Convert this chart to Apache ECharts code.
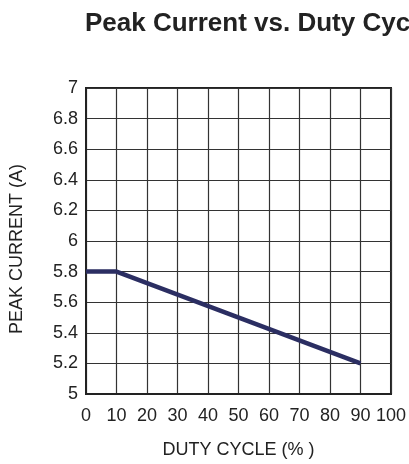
<!DOCTYPE html>
<html><head><meta charset="utf-8">
<script src="https://cdn.jsdelivr.net/npm/echarts@6/dist/echarts.min.js"></script>
<style>html,body{margin:0;padding:0;background:#fff}#c{width:409px;height:464px}</style>
</head><body><div id="c"></div>
<script>
const titleText = 'Peak Current vs. Duty Cycle';
const xName = 'DUTY CYCLE (% )';
const yName = 'PEAK CURRENT (A)';
const dutyCycle = [0, 10, 90];
const peakCurrent = [5.8, 5.8, 5.2];
const xTicks = {min: 0, max: 100, interval: 10};
const yTicks = {min: 5, max: 7, interval: 0.2};

const chart = echarts.init(document.getElementById('c'), null, {renderer: 'canvas'});
const font = 'Arial, "Liberation Sans", Helvetica, sans-serif';
chart.setOption({
  animation: false,
  backgroundColor: '#fff',
  title: {
    text: titleText, left: 80, top: 6,
    textStyle: {fontFamily: font, fontWeight: 'bold', fontSize: 26, color: '#222'}
  },
  grid: {left: 86, right: 15, top: 88, bottom: 68, show: true, borderColor: '#222', borderWidth: 2, backgroundColor: 'transparent'},
  xAxis: {
    type: 'value', min: xTicks.min, max: xTicks.max, interval: xTicks.interval,
    name: xName, nameLocation: 'middle', nameGap: 47,
    nameTextStyle: {fontFamily: font, fontSize: 18, color: '#222'},
    axisLine: {show: true, lineStyle: {color: '#222', width: 2}},
    axisTick: {show: false},
    axisLabel: {fontFamily: font, fontSize: 18, color: '#222', margin: 13},
    splitLine: {show: true, lineStyle: {color: '#333', width: 1.2}}
  },
  yAxis: {
    type: 'value', min: yTicks.min, max: yTicks.max, interval: yTicks.interval,
    name: yName, nameLocation: 'middle', nameGap: 60,
    nameTextStyle: {fontFamily: font, fontSize: 18, color: '#222', padding: [0, 16, 0, 0]},
    axisLine: {show: true, lineStyle: {color: '#222', width: 2}},
    axisTick: {show: false},
    axisLabel: {fontFamily: font, fontSize: 18, color: '#222', margin: 8,
      formatter: v => String(Math.round(v * 10) / 10)},
    splitLine: {show: true, lineStyle: {color: '#333', width: 1.2}}
  },
  series: [{
    type: 'line', data: dutyCycle.map((x, i) => [x, peakCurrent[i]]),
    symbol: 'none', lineStyle: {color: '#2b2e62', width: 4.5}
  }]
});
</script></body></html>
